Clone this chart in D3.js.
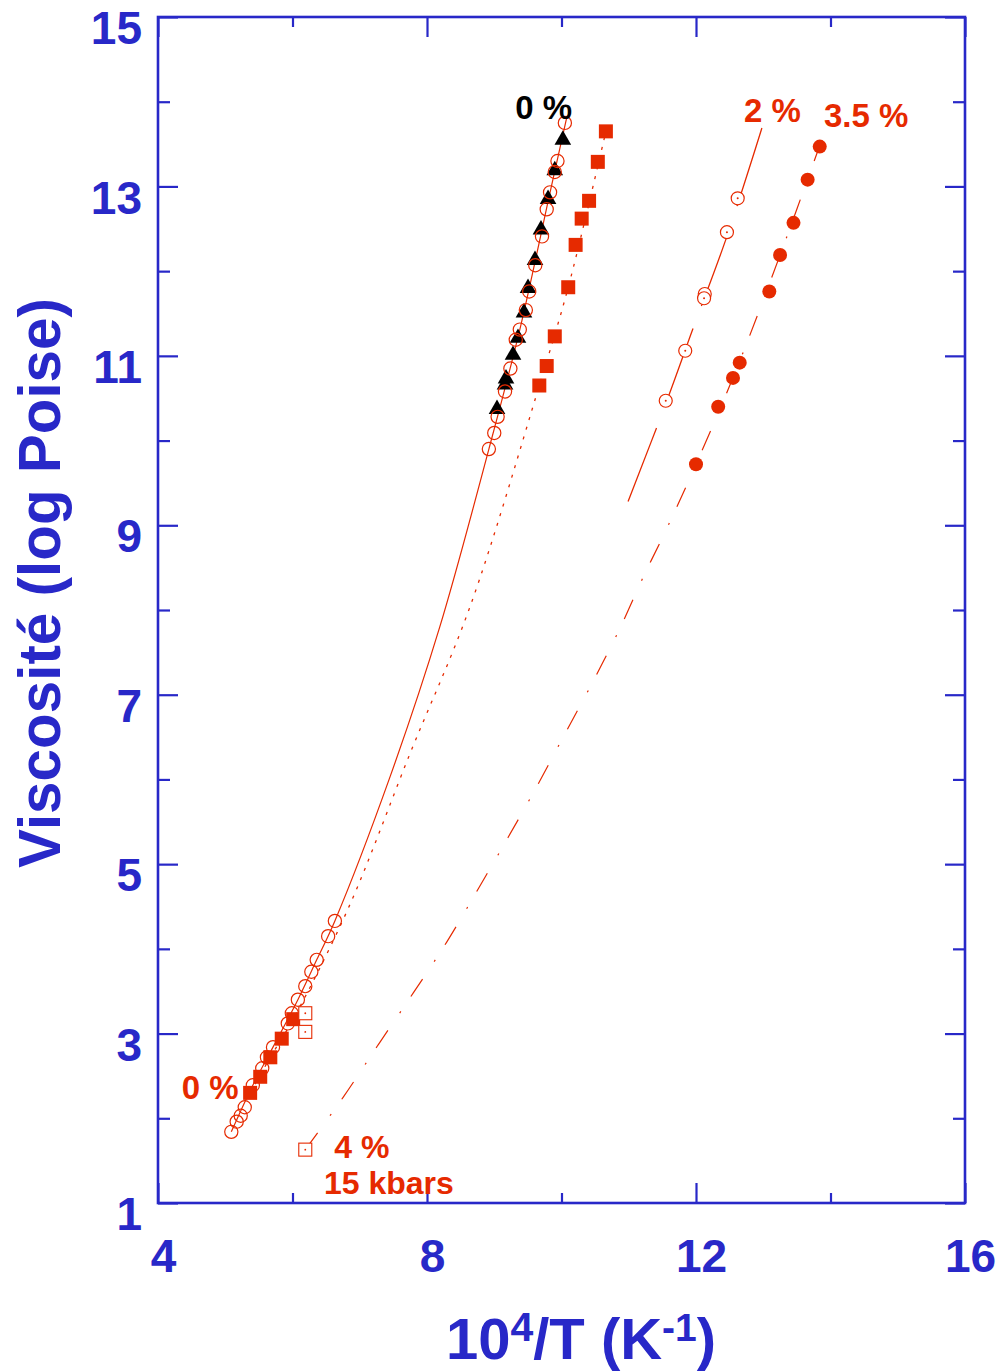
<!DOCTYPE html>
<html><head><meta charset="utf-8">
<script src="https://cdn.jsdelivr.net/npm/d3@7"></script>
<style>
body{margin:0;background:#fff}
svg{display:block}
text{font-family:"Liberation Sans",Arial,Helvetica,sans-serif;font-weight:bold}
</style>
</head><body>
<svg id="chart" width="1001" height="1371"></svg>
<script>
// ---------- axis ticks & labels ----------
const xMajorTicks = [4, 8, 12, 16];
const xMinorTicks = [6, 10, 14];
const yMajorTicks = [1, 3, 5, 7, 9, 11, 13, 15];
const yMinorTicks = [2, 4, 6, 8, 10, 12, 14];
const yTitle = "Viscosité (log Poise)";
const xTitleParts = ["10", "4", "/T (K", "-1", ")"];

// ---------- data: [10^4/T, log viscosity] ----------
// 0 % (black triangles)
const zeroTriangles = [[10.02,13.55],[9.90,13.19],[9.80,12.85],[9.695,12.49],[9.606,12.13],[9.502,11.80],
  [9.442,11.51],[9.353,11.21],[9.279,11.01],[9.175,10.73],[9.16,10.66],[9.041,10.37]];
// 0 % (open red circles)
const zeroCircles = [[10.05,13.75],[9.94,13.30],[9.90,13.17],[9.83,12.93],[9.78,12.73],[9.71,12.41],
  [9.61,12.07],[9.52,11.76],[9.47,11.54],[9.38,11.31],[9.32,11.19],[9.24,10.85],[9.16,10.58],
  [9.05,10.28],[9.00,10.09],[8.92,9.90],
  [6.63,4.33],[6.53,4.15],[6.36,3.87],[6.28,3.73],[6.19,3.56],[6.08,3.40],[5.99,3.24],[5.93,3.12],
  [5.71,2.84],[5.62,2.72],[5.55,2.59],[5.41,2.39],[5.29,2.13],[5.23,2.03],[5.17,1.96],[5.09,1.84]];
// 0 % (filled red squares)
const zeroSquares = [[10.66,13.65],[10.54,13.29],[10.41,12.83],[10.30,12.62],[10.21,12.31],[10.10,11.81],
  [9.90,11.23],[9.78,10.88],[9.67,10.65],
  [6.01,3.17],[5.84,2.94],[5.67,2.72],[5.52,2.49],[5.37,2.30]];
// 2 % (open circles with centre dot)
const twoCircles = [[12.62,12.86],[12.46,12.46],[12.13,11.73],[12.12,11.68],[11.84,11.06],[11.55,10.47]];
// 3.5 % (filled circles)
const threeFiveDots = [[13.84,13.47],[13.66,13.08],[13.45,12.57],[13.25,12.19],[13.09,11.76],
  [12.65,10.92],[12.55,10.74],[12.33,10.40],[12.0,9.72]];
// 4 % (open squares with centre dot)
const fourSquares = [[6.19,3.24],[6.19,3.02],[6.19,1.63]];

// fitted curves
const fit0Solid = [[5.09,1.84],[5.41,2.39],[5.71,2.84],[6.08,3.40],[6.36,3.87],[6.63,4.33],
  [7.45,6.03],[8.19,7.80],[8.92,9.90],[9.38,11.31],[9.83,12.93],[10.08,13.82]];
const fit0Dotted = [[5.37,2.30],[5.67,2.72],[6.01,3.17],[6.83,4.48],[7.75,6.31],[8.64,8.04],
  [9.67,10.65],[10.10,11.81],[10.66,13.65]];
const fit2Dashed = [[12.98,13.69],[12.46,12.41],[11.95,11.31],[11.59,10.52],[10.99,9.28]];
const fit35DashDot = [[6.19,1.63],[6.755,2.25],[7.276,2.87],[7.796,3.48],[8.293,4.08],[8.763,4.71],
  [9.209,5.32],[9.655,5.95],[10.052,6.54],[10.464,7.15],[10.860,7.77],[11.216,8.39],[11.588,9.00],
  [12.0,9.72],[12.595,10.83],[13.25,12.19],[13.87,13.55]];

// annotations: [text, x, y(baseline), colour key]
const annotations = [["0 %",9.313,13.793,"k"],["2 %",12.714,13.761,"r"],["3.5 %",13.903,13.702,"r"],
  ["0 %",4.352,2.228,"r"],["4 %",6.622,1.53,"r"],["15 kbars",6.468,1.108,"r"]];

// ---------- drawing ----------
const BLUE = "#2828C8", RED = "#E62A00", BLACK = "#000";
const FONT = "'Liberation Sans', Arial, Helvetica, sans-serif";
const svg = d3.select("#chart");
svg.append("rect").attr("width",1001).attr("height",1371).attr("fill","#fff");

const x = d3.scaleLinear().domain([4,16]).range([158,965]);
const y = d3.scaleLinear().domain([1,15]).range([1203,17]);

function styleAxis(g){
  g.select(".domain").remove();
  g.style("color",BLUE).attr("font-family",FONT).attr("font-weight","bold").attr("font-size",46);
  g.selectAll("line").attr("stroke-width",2.2);
}
// bottom
svg.append("g").attr("transform","translate(0,1203)")
  .call(d3.axisBottom(x).tickValues(xMajorTicks).tickSizeInner(-20).tickSizeOuter(0).tickPadding(36).tickFormat(d3.format("d")))
  .call(styleAxis).selectAll("text").attr("dx",5);
svg.append("g").attr("transform","translate(0,1203)")
  .call(d3.axisBottom(x).tickValues(xMinorTicks).tickSizeInner(-10).tickSizeOuter(0).tickFormat(""))
  .call(styleAxis);
// top
svg.append("g").attr("transform","translate(0,17)")
  .call(d3.axisTop(x).tickValues(xMajorTicks).tickSizeInner(-20).tickSizeOuter(0).tickFormat(""))
  .call(styleAxis);
svg.append("g").attr("transform","translate(0,17)")
  .call(d3.axisTop(x).tickValues(xMinorTicks).tickSizeInner(-10).tickSizeOuter(0).tickFormat(""))
  .call(styleAxis);
// left
svg.append("g").attr("transform","translate(158,0)")
  .call(d3.axisLeft(y).tickValues(yMajorTicks).tickSizeInner(-20).tickSizeOuter(0).tickPadding(16).tickFormat(d3.format("d")))
  .call(styleAxis).selectAll("text").attr("dy","0.58em");
svg.append("g").attr("transform","translate(158,0)")
  .call(d3.axisLeft(y).tickValues(yMinorTicks).tickSizeInner(-12).tickSizeOuter(0).tickFormat(""))
  .call(styleAxis);
// right
svg.append("g").attr("transform","translate(965,0)")
  .call(d3.axisRight(y).tickValues(yMajorTicks).tickSizeInner(-20).tickSizeOuter(0).tickFormat(""))
  .call(styleAxis);
svg.append("g").attr("transform","translate(965,0)")
  .call(d3.axisRight(y).tickValues(yMinorTicks).tickSizeInner(-12).tickSizeOuter(0).tickFormat(""))
  .call(styleAxis);
// frame
svg.append("rect").attr("x",x(4)).attr("y",y(15)).attr("width",x(16)-x(4)).attr("height",y(1)-y(15))
  .attr("fill","none").attr("stroke",BLUE).attr("stroke-width",2.6);

// titles
svg.append("text").attr("transform","translate(60,583) rotate(-90)")
  .attr("text-anchor","middle").attr("font-size",60).attr("fill",BLUE)
  .attr("textLength",570).attr("lengthAdjust","spacingAndGlyphs").text(yTitle);
const xt = svg.append("text").attr("x",581).attr("y",1359).attr("text-anchor","middle")
  .attr("font-size",58).attr("fill",BLUE);
xt.append("tspan").text(xTitleParts[0]);
xt.append("tspan").attr("font-size",41).attr("dy",-18).text(xTitleParts[1]);
xt.append("tspan").attr("dy",18).text(xTitleParts[2]);
xt.append("tspan").attr("font-size",39).attr("dy",-18).text(xTitleParts[3]);
xt.append("tspan").attr("dy",18).text(xTitleParts[4]);

// lines
const line = d3.line().x(d=>x(d[0])).y(d=>y(d[1])).curve(d3.curveCatmullRom.alpha(0.5));
svg.append("path").attr("d",line(fit0Solid)).attr("fill","none").attr("stroke",RED).attr("stroke-width",1.2);
svg.append("path").attr("d",line(fit0Dotted)).attr("fill","none").attr("stroke",RED).attr("stroke-width",1.3)
  .attr("stroke-dasharray","3,7");
svg.append("path").attr("d",line(fit2Dashed)).attr("fill","none").attr("stroke",RED).attr("stroke-width",1.3)
  .attr("stroke-dasharray","82,24");
svg.append("path").attr("d",line(fit35DashDot)).attr("fill","none").attr("stroke",RED).attr("stroke-width",1.2)
  .attr("stroke-dasharray","21,21,2,18");

// markers
svg.append("g").selectAll("path").data(zeroTriangles).join("path")
  .attr("d",d3.symbol(d3.symbolTriangle,120)())
  .attr("transform",d=>`translate(${x(d[0])},${y(d[1])})`).attr("fill",BLACK);
svg.append("g").selectAll("circle").data(zeroCircles).join("circle")
  .attr("cx",d=>x(d[0])).attr("cy",d=>y(d[1])).attr("r",6.6)
  .attr("fill","none").attr("stroke",RED).attr("stroke-width",1.2);
const sq = 14;
svg.append("g").selectAll("rect").data(zeroSquares).join("rect")
  .attr("x",d=>x(d[0])-sq/2).attr("y",d=>y(d[1])-sq/2).attr("width",sq).attr("height",sq).attr("fill",RED);
const g2 = svg.append("g").selectAll("g").data(twoCircles).join("g")
  .attr("transform",d=>`translate(${x(d[0])},${y(d[1])})`);
g2.append("circle").attr("r",6.5).attr("fill","#fff").attr("stroke",RED).attr("stroke-width",1.2);
g2.append("circle").attr("r",1).attr("fill",RED);
svg.append("g").selectAll("circle").data(threeFiveDots).join("circle")
  .attr("cx",d=>x(d[0])).attr("cy",d=>y(d[1])).attr("r",7).attr("fill",RED);
const osq = 13;
const g4 = svg.append("g").selectAll("g").data(fourSquares).join("g")
  .attr("transform",d=>`translate(${x(d[0])},${y(d[1])})`);
g4.append("rect").attr("x",-osq/2).attr("y",-osq/2).attr("width",osq).attr("height",osq)
  .attr("fill","#fff").attr("stroke",RED).attr("stroke-width",1.1);
g4.append("circle").attr("r",0.9).attr("fill",RED);

// annotations
svg.append("g").selectAll("text").data(annotations).join("text")
  .attr("x",d=>x(d[1])).attr("y",d=>y(d[2])).attr("font-size",d=>d[0]==="4 %"||d[0]==="15 kbars"?32:33)
  .attr("fill",d=>d[3]==="k"?BLACK:RED).text(d=>d[0]);
</script>
</body></html>
